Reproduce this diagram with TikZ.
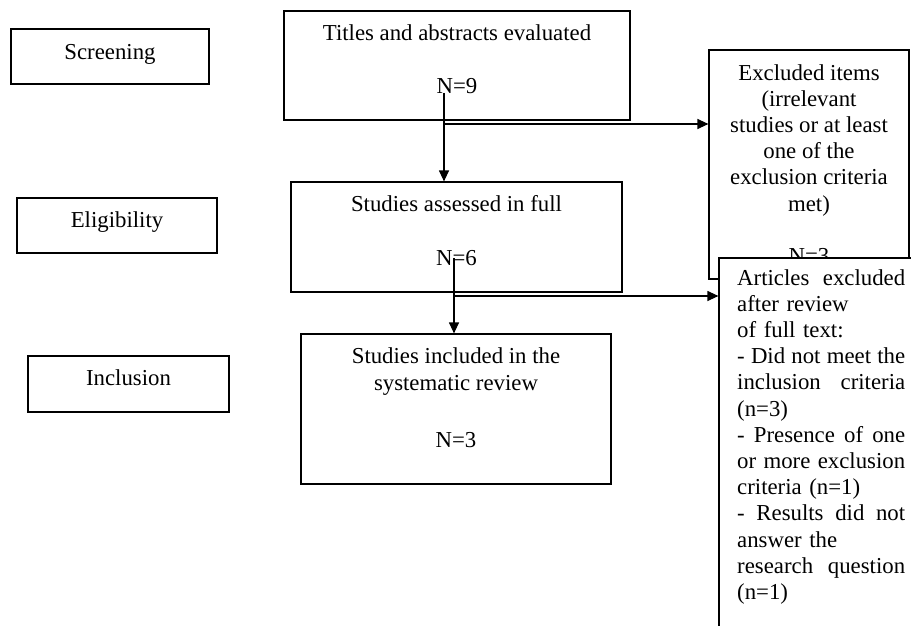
\documentclass[tikz,border=0pt]{standalone}
\usepackage{fontspec}
\setmainfont{Liberation Serif}
\usetikzlibrary{arrows.meta}
\begin{document}
\begin{tikzpicture}[x=1pt,y=-1pt,>={Triangle[length=11pt,width=10pt]},
  box/.style={draw,line width=1.2pt,inner sep=0pt},
  txt/.style={font=\fontsize{22.8}{26.2}\selectfont,inner sep=0pt,anchor=base}]
  \useasboundingbox (0,0) rectangle (911,626);
  \clip (0,0) rectangle (911,626);

  % stages
  \node[box,minimum width=198pt,minimum height=55pt] (scr) at (110,56.5) {};
  \node[txt] (scrT) at (110,59.3) {Screening};
  \node[box,minimum width=200pt,minimum height=55pt] (eli) at (117,225.5) {};
  \node[txt] (eliT) at (117,227.7) {Eligibility};
  \node[box,minimum width=201pt,minimum height=56pt] (inl) at (128.5,384) {};
  \node[txt] (inlT) at (128.5,385) {Inclusion};

  % main flow
  \node[box,minimum width=346pt,minimum height=109pt] (tit) at (457,65.5) {};
  \node[txt] (titT) at (457,41) {Titles and abstracts evaluated};
  \node[txt] (n9) at (457,93) {N=9};
  \node[box,minimum width=331pt,minimum height=110pt] (ass) at (456.5,237) {};
  \node[txt] (assT) at (456.5,211.7) {Studies assessed in full};
  \node[txt] (n6) at (456.5,265) {N=6};
  \node[box,minimum width=310pt,minimum height=150pt] (inc) at (456,409) {};
  \node[txt,align=center] (incT) at (456,390) {Studies included in the\\systematic review};
  \node[txt] (n3) at (456,447) {N=3};

  % exclusions
  \node[box,minimum width=200pt,minimum height=229pt] (exc) at (809,164.5) {};
  \node[txt,align=center] (excT) at (809,211) {Excluded items\\(irrelevant\\studies or at least\\one of the\\exclusion criteria\\met)};
  \node[txt] (n3x) at (809,263) {N=3};
  \node[box,fill=white,minimum width=221pt,minimum height=402pt] (art) at (829.5,459) {};
  \node[txt,anchor=base west,align=left,text width=168pt] (artT) at (737,285)
    {Articles\hfill excluded\\after review\\of full text:\\-\hfill Did\hfill not\hfill meet\hfill the\\inclusion\hfill criteria\\(n=3)\\-\hfill Presence\hfill of\hfill one\\or\hfill more\hfill exclusion\\criteria (n=1)\\-\hfill Results\hfill did\hfill not\\answer the\\research\hfill question\\(n=1)};

  \coordinate (s1) at (444,93);
  \coordinate (h1) at (444,124);
  \coordinate (s2) at (454,258);
  \coordinate (h2) at (454,296);
  \draw[->,line width=1.2pt] (s1) -- (s1 |- ass.north);
  \draw[->,line width=1.2pt] (h1) -- (h1 -| exc.west);
  \draw[->,line width=1.2pt] (s2) -- (s2 |- inc.north);
  \draw[->,line width=1.2pt] (h2) -- (h2 -| art.west);
\end{tikzpicture}
\end{document}
